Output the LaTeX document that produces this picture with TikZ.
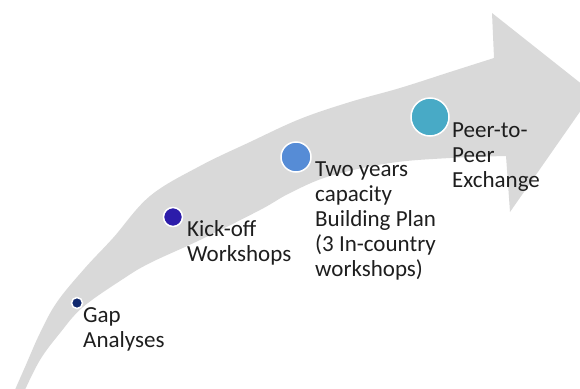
\documentclass[tikz,border=0pt]{standalone}
\usepackage{fontspec}
\setmainfont{Carlito}
\definecolor{arrowgray}{RGB}{217,217,217}
\definecolor{txtgray}{RGB}{30,30,30}
\definecolor{gapblue}{RGB}{16,40,110}
\definecolor{kickblue}{RGB}{44,28,170}
\definecolor{planblue}{RGB}{86,140,214}
\definecolor{peerblue}{RGB}{72,170,198}
\tikzset{
  dot/.style={circle, draw=white, line width=1.5pt, fill=#1, inner sep=0pt},
  lbl/.style={anchor=north west, inner sep=0pt, align=left, text=txtgray,
    font=\fontsize{23}{25}\selectfont}
}
\begin{document}
\begin{tikzpicture}[x=1pt,y=-1pt]
	\useasboundingbox(0,0)rectangle(580,388);
	\clip(0,0)rectangle(580,388);
	% the curved arrow
	\fill[arrowgray]plot[smooth,tension=0.6]coordinates{(14,392)(25,367)(40,333)(57,302)(85,268)(113,238)(150,196)(200,166)(250,142)(300,119)(350,102)(400,88)(450,72)(494,58)}
		--(492,13)--(593,93)--(510,212)--(506,156)
		--plot[smooth,tension=0.6]coordinates{(506,156)(450,158)(390,163)(330,176)(290,193)(260,210)(200,240)(150,263)(123,279)(83,307)(60,333)(40,360)(24,392)}--cycle;
	% milestones
	\node[dot=gapblue,minimum size=11pt](gap)at(77,303){};
	\node[dot=kickblue,minimum size=19pt](kick)at(173,217){};
	\node[dot=planblue,minimum size=30pt](plan)at(296,157){};
	\node[dot=peerblue,minimum size=38pt](peer)at(430,117){};
	\node[lbl](gaptext)at(83,307){Gap\\Analyses};
	\node[lbl](kicktext)at(187,220){Kick-off\\Workshops};
	\node[lbl](plantext)at(315,162){Two years\\capacity\\Building Plan\\(3 In-country\\workshops)};
	\node[lbl](peertext)at(452,123){Peer-to-\\Peer\\Exchange};
\end{tikzpicture}
\end{document}
